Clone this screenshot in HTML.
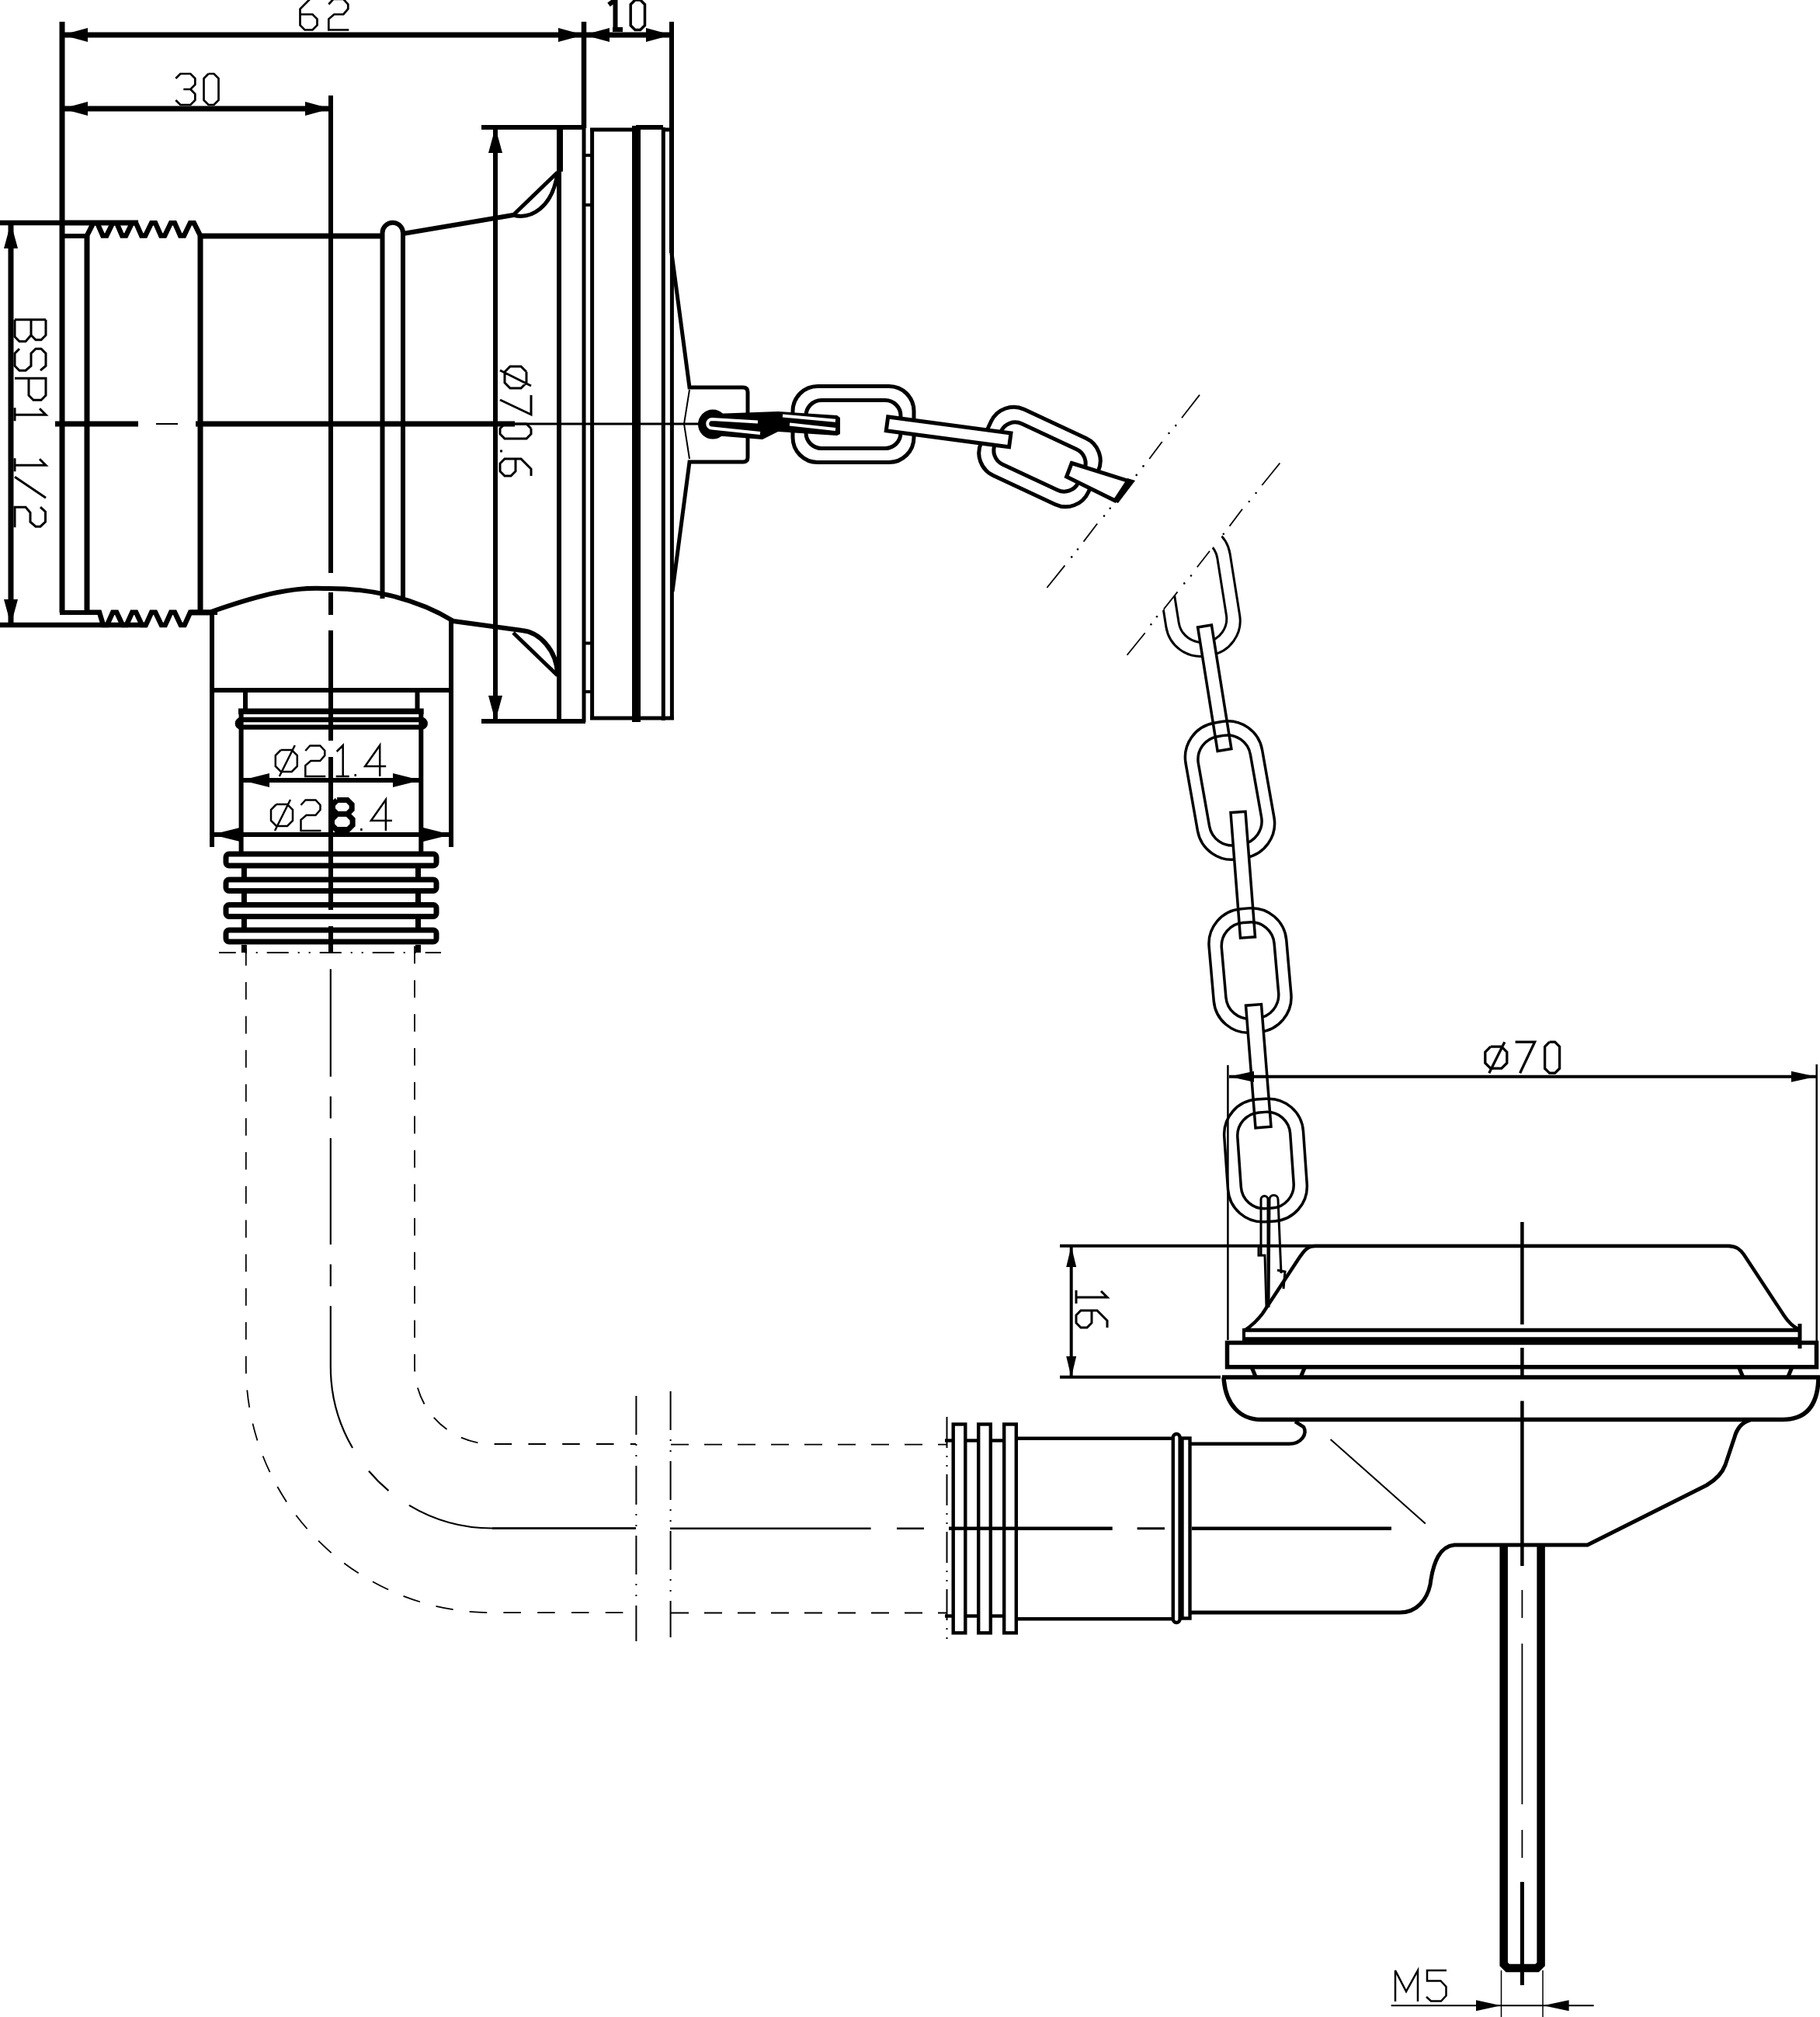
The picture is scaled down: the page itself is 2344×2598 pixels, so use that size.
<!DOCTYPE html>
<html><head><meta charset="utf-8"><style>
html,body{margin:0;padding:0;background:#fff;}
svg{display:block;}
</style></head><body>
<svg width="2344" height="2598" viewBox="0 0 2344 2598">
<rect width="2344" height="2598" fill="#fff"/>
<g stroke="#000" fill="none" stroke-linecap="butt">
<line x1="80.0" y1="28.0" x2="80.0" y2="304.0" stroke-width="7" />
<line x1="752.0" y1="28.0" x2="752.0" y2="930.0" stroke-width="5" />
<line x1="752.0" y1="28.0" x2="752.0" y2="165.0" stroke-width="6.5" />
<line x1="865.0" y1="28.0" x2="865.0" y2="326.0" stroke-width="6" />
<line x1="80.0" y1="45.0" x2="752.0" y2="45.0" stroke-width="7" />
<polygon points="80.0,45.0 113.0,36.0 113.0,54.0" fill="#000" stroke="none"/>
<polygon points="752.0,45.0 719.0,54.0 719.0,36.0" fill="#000" stroke="none"/>
<line x1="752.0" y1="45.0" x2="865.0" y2="45.0" stroke-width="7" />
<polygon points="752.0,45.0 785.0,36.0 785.0,54.0" fill="#000" stroke="none"/>
<polygon points="865.0,45.0 832.0,54.0 832.0,36.0" fill="#000" stroke="none"/>
<line x1="80.0" y1="140.0" x2="426.0" y2="140.0" stroke-width="7" />
<polygon points="80.0,140.0 113.0,131.0 113.0,149.0" fill="#000" stroke="none"/>
<polygon points="426.0,140.0 393.0,149.0 393.0,131.0" fill="#000" stroke="none"/>
<path transform="translate(386.5,-1.5) rotate(0) scale(1.0)" d="M22.0,0.0 L13.0,0.0 L0.0,13.0 L0.0,34.0 L6.0,40.0 L16.0,40.0 L22.0,34.0 L22.0,26.0 L16.0,20.0 L0.0,20.0 M36.8,7.0 L42.8,0.5 L55.8,0.5 L61.8,7.0 L61.8,13.0 L55.8,20.0 L43.8,20.0 L36.8,26.0 L36.8,40.0 L62.8,40.0" stroke-width="2.70" fill="none" stroke-linejoin="miter"/>
<path transform="translate(226.3,95) rotate(0) scale(1.0)" d="M0.0,6.0 L6.0,0.0 L19.0,0.0 L25.0,6.0 L25.0,14.0 L19.0,20.0 L10.0,20.0 M19.0,20.0 L25.0,26.0 L25.0,34.0 L19.0,40.0 L6.0,40.0 L0.0,34.0 M42.2,0.0 L49.2,0.0 L55.2,6.0 L55.2,34.0 L49.2,40.0 L42.2,40.0 L36.2,34.0 L36.2,6.0 L42.2,0.0" stroke-width="2.70" fill="none" stroke-linejoin="miter"/>
<path d="M784,6 L792.5,0 L792.5,38 M789,38 L802,38" stroke-width="6" fill="none" />
<path transform="translate(812.2,0) rotate(0) scale(0.9625)" d="M6.0,0.0 L13.0,0.0 L19.0,6.0 L19.0,34.0 L13.0,40.0 L6.0,40.0 L0.0,34.0 L0.0,6.0 L6.0,0.0" stroke-width="3.64" fill="none" stroke-linejoin="miter"/>
<line x1="0.0" y1="287.0" x2="178.0" y2="287.0" stroke-width="6.5" />
<line x1="0.0" y1="805.0" x2="189.0" y2="805.0" stroke-width="6.5" />
<line x1="14.0" y1="287.0" x2="14.0" y2="805.0" stroke-width="7" />
<polygon points="14.0,287.0 23.0,320.0 5.0,320.0" fill="#000" stroke="none"/>
<polygon points="14.0,805.0 5.0,772.0 23.0,772.0" fill="#000" stroke="none"/>
<path transform="translate(59,411.7) rotate(90) scale(1.0)" d="M0.0,0.0 L0.0,40.0 M0.0,0.0 L20.0,0.0 L26.0,6.0 L26.0,13.0 L20.0,19.0 L0.0,19.0 M20.0,19.0 L28.0,26.0 L28.0,34.0 L22.0,40.0 L0.0,40.0 M65.5,7.0 L59.5,0.0 L43.5,0.0 L37.5,6.0 L37.5,13.0 L43.5,19.0 L59.5,19.0 L65.5,26.0 L65.5,34.0 L59.5,40.0 L43.5,40.0 L37.5,34.0 M75.5,40.0 L75.5,0.0 L97.5,0.0 L103.5,6.0 L103.5,16.0 L97.5,22.0 L75.5,22.0 M114.5,8.0 L122.5,0.0 L122.5,40.0 M113.5,40.0 L130.5,40.0 M179.5,8.0 L187.5,0.0 L187.5,40.0 M178.5,40.0 L195.5,40.0 M202.5,40.0 L229.5,0.0 M241.5,7.0 L247.5,0.5 L260.5,0.5 L266.5,7.0 L266.5,13.0 L260.5,20.0 L248.5,20.0 L241.5,26.0 L241.5,40.0 L267.5,40.0" stroke-width="3.00" fill="none" stroke-linejoin="miter"/>
<line x1="80.0" y1="304.0" x2="80.0" y2="789.0" stroke-width="7" />
<line x1="112.0" y1="304.0" x2="112.0" y2="789.0" stroke-width="7" />
<line x1="77.0" y1="304.0" x2="115.0" y2="304.0" stroke-width="6" />
<line x1="77.0" y1="789.0" x2="126.0" y2="789.0" stroke-width="6" />
<polyline points="112.0,303.5 120.2,287.2 125.2,287.2 132.3,303.4 137.3,303.4 145.2,287.2 150.2,287.2 157.2,303.4 162.2,303.4 170.1,287.2 175.1,287.2 182.2,303.4 187.2,303.4 195.1,287.2 200.1,287.2 207.2,303.4 212.2,303.4 220.0,287.2 225.0,287.2 232.1,303.4 237.1,303.4 244.9,287.2 249.9,287.2 258.0,303.5" stroke-width="6.5" fill="none" />
<line x1="77.0" y1="287.0" x2="178.0" y2="287.0" stroke-width="6.5" />
<polyline points="112.0,788.8 128.0,788.8 132.9,805.0 137.9,805.0 145.2,788.8 150.2,788.8 157.8,805.0 162.8,805.0 170.2,788.8 175.2,788.8 182.8,805.0 187.8,805.0 195.1,788.8 200.1,788.8 207.8,805.0 212.8,805.0 220.1,788.8 225.1,788.8 232.7,805.0 237.7,805.0 245.0,788.8 250.0,788.8 280.0,788.8" stroke-width="6.5" fill="none" />
<line x1="245.0" y1="789.0" x2="274.0" y2="789.0" stroke-width="7" />
<line x1="258.0" y1="304.0" x2="258.0" y2="789.0" stroke-width="7" />
<line x1="255.0" y1="304.0" x2="495.0" y2="304.0" stroke-width="7" />
<line x1="71.0" y1="546.0" x2="178.0" y2="546.0" stroke-width="7" />
<line x1="201.0" y1="546.0" x2="229.0" y2="546.0" stroke-width="2" />
<line x1="252.0" y1="546.0" x2="663.0" y2="546.0" stroke-width="7" />
<line x1="663.0" y1="546.0" x2="901.0" y2="546.0" stroke-width="3" />
<line x1="426.0" y1="123.0" x2="426.0" y2="738.0" stroke-width="6" />
<line x1="426.0" y1="763.0" x2="426.0" y2="792.0" stroke-width="6" />
<line x1="426.0" y1="812.0" x2="426.0" y2="954.0" stroke-width="6" />
<line x1="426.0" y1="975.0" x2="426.0" y2="1172.0" stroke-width="6" />
<line x1="426.0" y1="1193.0" x2="426.0" y2="1227.0" stroke-width="6" />
<path d="M492.5,771 L492.5,300 A13,13 0 0 1 519,300 L519,771" stroke-width="6" fill="none" />
<path d="M519,301 L661,277" stroke-width="6" fill="none" />
<path d="M661,277 C683,283 712,268 718,222" stroke-width="5" fill="none" />
<line x1="661.0" y1="277.0" x2="718.0" y2="222.0" stroke-width="5" />
<path d="M272,788 C340,764 380,756 418,758 C475,757 535,770 584,800 L672,812 C695,814 717,838 718,868" stroke-width="6" fill="none" />
<line x1="661.0" y1="815.0" x2="718.0" y2="870.0" stroke-width="5" />
<line x1="620.0" y1="164.0" x2="752.0" y2="164.0" stroke-width="6" />
<line x1="620.0" y1="929.0" x2="754.0" y2="929.0" stroke-width="6" />
<line x1="720.0" y1="164.0" x2="720.0" y2="929.0" stroke-width="6" />
<line x1="722.0" y1="166.0" x2="722.0" y2="221.0" stroke-width="6" />
<line x1="638.0" y1="164.0" x2="638.0" y2="929.0" stroke-width="6" />
<polygon points="638.0,164.0 647.0,197.0 629.0,197.0" fill="#000" stroke="none"/>
<polygon points="638.0,929.0 629.0,896.0 647.0,896.0" fill="#000" stroke="none"/>
<path transform="translate(684,472) rotate(90) scale(1.0)" d="M7.0,6.0 L21.0,6.0 L28.0,13.0 L28.0,27.0 L21.0,34.0 L7.0,34.0 L0.0,27.0 L0.0,13.0 L7.0,6.0 M25.0,0.0 L5.0,40.0 M37.0,0.0 L62.0,0.0 L43.0,40.0 M80.0,0.0 L87.0,0.0 L93.0,6.0 L93.0,34.0 L87.0,40.0 L80.0,40.0 L74.0,34.0 L74.0,6.0 L80.0,0.0 M109.0,37.0 L109.0,40.0 M141.0,0.0 L132.0,0.0 L119.0,13.0 L119.0,34.0 L125.0,40.0 L135.0,40.0 L141.0,34.0 L141.0,26.0 L135.0,20.0 L119.0,20.0" stroke-width="3.00" fill="none" stroke-linejoin="miter"/>
<line x1="762.6" y1="165.0" x2="762.6" y2="926.0" stroke-width="5" />
<line x1="760.0" y1="167.0" x2="819.0" y2="167.0" stroke-width="5" />
<line x1="819.5" y1="162.0" x2="819.5" y2="930.0" stroke-width="11" />
<line x1="819.0" y1="164.0" x2="854.0" y2="164.0" stroke-width="6" />
<line x1="854.0" y1="167.0" x2="868.0" y2="167.0" stroke-width="5" />
<line x1="854.3" y1="164.0" x2="854.3" y2="928.0" stroke-width="5" />
<line x1="865.4" y1="28.0" x2="865.4" y2="927.0" stroke-width="5" />
<line x1="760.0" y1="925.0" x2="868.0" y2="925.0" stroke-width="5" />
<line x1="752.0" y1="200.0" x2="762.0" y2="200.0" stroke-width="4" />
<line x1="752.0" y1="264.0" x2="762.0" y2="264.0" stroke-width="4" />
<line x1="752.0" y1="828.5" x2="762.0" y2="828.5" stroke-width="4" />
<line x1="752.0" y1="891.0" x2="762.0" y2="891.0" stroke-width="4" />
<polyline points="865.0,326.0 888.0,499.0 957.0,499.0" stroke-width="5" fill="none" />
<path d="M957,499 Q963,499 963,505 L963,589 Q963,595 957,595 L888,595 L866,762" stroke-width="5" fill="none" />
<polyline points="888.0,502.0 881.0,546.0 888.0,591.0" stroke-width="2" fill="none" />
<line x1="273.0" y1="791.0" x2="273.0" y2="1091.0" stroke-width="6" />
<line x1="581.0" y1="800.0" x2="581.0" y2="1091.0" stroke-width="6" />
<line x1="270.0" y1="889.0" x2="584.0" y2="889.0" stroke-width="6" />
<line x1="316.0" y1="889.0" x2="316.0" y2="916.0" stroke-width="6" />
<line x1="537.5" y1="889.0" x2="537.5" y2="916.0" stroke-width="6" />
<line x1="307.0" y1="916.2" x2="545.6" y2="916.2" stroke-width="7.5" />
<rect x="305.8" y="927" width="242" height="9.7" rx="4.8" stroke-width="6.3"/>
<line x1="310.6" y1="913.0" x2="310.6" y2="1097.0" stroke-width="6" />
<line x1="542.3" y1="913.0" x2="542.3" y2="1097.0" stroke-width="6" />
<line x1="311.0" y1="1005.0" x2="542.0" y2="1005.0" stroke-width="6" />
<polygon points="311.0,1005.0 347.0,996.0 347.0,1014.0" fill="#000" stroke="none"/>
<polygon points="542.0,1005.0 506.0,1014.0 506.0,996.0" fill="#000" stroke="none"/>
<line x1="273.0" y1="1075.0" x2="581.0" y2="1075.0" stroke-width="6" />
<polygon points="273.0,1075.0 309.0,1066.0 309.0,1084.0" fill="#000" stroke="none"/>
<polygon points="581.0,1075.0 545.0,1084.0 545.0,1066.0" fill="#000" stroke="none"/>
<path transform="translate(354.8,960) rotate(0) scale(1.0)" d="M7.0,6.0 L21.0,6.0 L28.0,13.0 L28.0,27.0 L21.0,34.0 L7.0,34.0 L0.0,27.0 L0.0,13.0 L7.0,6.0 M25.0,0.0 L5.0,40.0 M38.5,7.0 L44.5,0.5 L57.5,0.5 L63.5,7.0 L63.5,13.0 L57.5,20.0 L45.5,20.0 L38.5,26.0 L38.5,40.0 L64.5,40.0 M78.9,8.0 L86.9,0.0 L86.9,40.0 M77.9,40.0 L94.9,40.0 M102.9,37.0 L102.9,40.0 M134.4,40.0 L134.4,0.0 L115.4,27.0 L142.4,27.0" stroke-width="2.50" fill="none" stroke-linejoin="miter"/>
<path transform="translate(349,1030) rotate(0) scale(1.0)" d="M7.0,6.0 L21.0,6.0 L28.0,13.0 L28.0,27.0 L21.0,34.0 L7.0,34.0 L0.0,27.0 L0.0,13.0 L7.0,6.0 M25.0,0.0 L5.0,40.0 M38.5,7.0 L44.5,0.5 L57.5,0.5 L63.5,7.0 L63.5,13.0 L57.5,20.0 L45.5,20.0 L38.5,26.0 L38.5,40.0 L64.5,40.0" stroke-width="2.50" fill="none" stroke-linejoin="miter"/>
<path transform="translate(427.5,1030.5) rotate(0) scale(0.95)" d="M7.0,0.0 L21.0,0.0 L27.0,6.0 L27.0,13.0 L21.0,19.0 L7.0,19.0 L1.0,13.0 L1.0,6.0 L7.0,0.0 M7.0,19.0 L21.0,19.0 L28.0,26.0 L28.0,34.0 L22.0,40.0 L6.0,40.0 L0.0,34.0 L0.0,26.0 L7.0,19.0" stroke-width="7.37" fill="none" stroke-linejoin="miter"/>
<path transform="translate(461.4,1030) rotate(0) scale(1.0)" d="M4.0,37.0 L4.0,40.0 M35.5,40.0 L35.5,0.0 L16.5,27.0 L43.5,27.0" stroke-width="2.50" fill="none" stroke-linejoin="miter"/>
<rect x="291" y="1100" width="271" height="15" rx="4" stroke-width="7"/>
<rect x="291" y="1133" width="271" height="14.5" rx="4" stroke-width="7"/>
<rect x="291" y="1165.5" width="271" height="15.0" rx="4" stroke-width="7"/>
<rect x="291" y="1198" width="271" height="15" rx="4" stroke-width="7"/>
<line x1="314.4" y1="1118.0" x2="314.4" y2="1130.0" stroke-width="7" />
<line x1="538.5" y1="1118.0" x2="538.5" y2="1130.0" stroke-width="7" />
<line x1="314.4" y1="1151.0" x2="314.4" y2="1163.0" stroke-width="7" />
<line x1="538.5" y1="1151.0" x2="538.5" y2="1163.0" stroke-width="7" />
<line x1="314.4" y1="1184.0" x2="314.4" y2="1195.0" stroke-width="7" />
<line x1="538.5" y1="1184.0" x2="538.5" y2="1195.0" stroke-width="7" />
<line x1="314.4" y1="1217.0" x2="314.4" y2="1227.0" stroke-width="7" />
<line x1="538.5" y1="1217.0" x2="538.5" y2="1227.0" stroke-width="7" />
<line x1="282.0" y1="1227.0" x2="568.0" y2="1227.0" stroke-width="2" stroke-dasharray="28,12,2,12,2,12" stroke-dashoffset="6.3"/>
<path d="M316.8,1221.2 L316.8,1760 A317.2,317.2 0 0 0 634,2077.2 L819,2077.2" stroke-width="1.8" fill="none" stroke-dasharray="22.6,21.2"/>
<path d="M534,1218.6 L534,1760 A100,100 0 0 0 634,1860 L819,1860" stroke-width="1.8" fill="none" stroke-dasharray="22.6,21.2"/>
<path d="M425.8,1248.3 L425.8,1760 A208.2,208.2 0 0 0 634,1968.5 L819,1968.5" stroke-width="2.2" fill="none" stroke-dasharray="138.5,25.4,28.3,25.5,137,25.5,28.3,25.5,187.7,36.3,36,32.4,500"/>
<line x1="634.0" y1="1968.5" x2="819.0" y2="1968.5" stroke-width="2.5" />
<line x1="819.4" y1="1798.0" x2="819.4" y2="2114.0" stroke-width="2" stroke-dasharray="50,12,2,12,2,12"/>
<line x1="863.6" y1="1792.0" x2="863.6" y2="2109.0" stroke-width="2" stroke-dasharray="50,12,2,12,2,12"/>
<line x1="864.0" y1="1860.7" x2="1219.0" y2="1860.7" stroke-width="1.8" stroke-dasharray="23,20"/>
<line x1="864.0" y1="2077.5" x2="1219.0" y2="2077.5" stroke-width="1.8" stroke-dasharray="23,20"/>
<line x1="863.0" y1="1968.7" x2="1121.6" y2="1968.7" stroke-width="2.5" />
<line x1="1155.0" y1="1968.7" x2="1190.0" y2="1968.7" stroke-width="2.5" />
<line x1="1219.5" y1="1825.0" x2="1219.5" y2="2112.0" stroke-width="2" stroke-dasharray="40,10,2,10,2,10"/>
<rect x="1227.7" y="1834.5" width="15.6" height="268.8" stroke-width="4.4"/>
<rect x="1260.2" y="1834.5" width="15.6" height="268.8" stroke-width="4.4"/>
<rect x="1293.2" y="1834.5" width="15.6" height="268.8" stroke-width="4.4"/>
<line x1="1217.0" y1="1855.5" x2="1227.0" y2="1855.5" stroke-width="4.4" />
<line x1="1217.0" y1="2081.5" x2="1227.0" y2="2081.5" stroke-width="4.4" />
<line x1="1243.0" y1="1855.5" x2="1260.0" y2="1855.5" stroke-width="4.4" />
<line x1="1243.0" y1="2081.5" x2="1260.0" y2="2081.5" stroke-width="4.4" />
<line x1="1276.0" y1="1855.5" x2="1293.0" y2="1855.5" stroke-width="4.4" />
<line x1="1276.0" y1="2081.5" x2="1293.0" y2="2081.5" stroke-width="4.4" />
<line x1="1311.0" y1="1852.7" x2="1509.0" y2="1852.7" stroke-width="4.5" />
<line x1="1311.0" y1="2085.3" x2="1509.0" y2="2085.3" stroke-width="4.5" />
<line x1="1222.0" y1="1968.8" x2="1432.7" y2="1968.8" stroke-width="4.5" />
<line x1="1464.6" y1="1968.8" x2="1500.0" y2="1968.8" stroke-width="3" />
<line x1="1535.0" y1="1968.8" x2="1792.0" y2="1968.8" stroke-width="4.5" />
<rect x="1510.8" y="1847" width="8.8" height="243" rx="4.4" stroke-width="4.4"/>
<rect x="1522.5" y="1852.5" width="10" height="232" stroke-width="4.4"/>
<path d="M1534,1859.8 L1660,1859.8 C1676,1859.8 1684,1847 1679,1838 L1668,1831" stroke-width="4.5" fill="none" />
<path d="M1576,1774 C1578,1810 1598,1828.5 1624,1828.5 L2296,1828.5 C2325,1828.5 2342,1812 2342,1772" stroke-width="5.5" fill="none" />
<line x1="1574.0" y1="1774.0" x2="2344.0" y2="1774.0" stroke-width="5.5" />
<path d="M2254,1829 C2244,1832 2237,1840 2234,1851 L2222,1887 C2219,1895 2213,1904 2198,1913 L2044.5,1990 L1873,1990 C1855,1992 1846,2010 1842,2041 C1838,2060 1825,2077 1803,2077 L1534,2077" stroke-width="5" fill="none" />
<line x1="1713.6" y1="1854.0" x2="1835.8" y2="1962.5" stroke-width="2" />
<line x1="1960.4" y1="1574.0" x2="1960.4" y2="1706.0" stroke-width="4.5" />
<line x1="1960.4" y1="1736.0" x2="1960.4" y2="1772.0" stroke-width="4.5" />
<line x1="1960.4" y1="1804.5" x2="1960.4" y2="2017.0" stroke-width="4.5" />
<line x1="1960.4" y1="2048.0" x2="1960.4" y2="2084.0" stroke-width="1.8" />
<line x1="1960.4" y1="2117.0" x2="1960.4" y2="2324.0" stroke-width="1.8" />
<line x1="1960.4" y1="2357.0" x2="1960.4" y2="2393.0" stroke-width="1.8" />
<line x1="1960.4" y1="2424.0" x2="1960.4" y2="2557.0" stroke-width="5" />
<path d="M1936.7,1991 L1936.7,2530 L1941.7,2535 L1979.6,2535 L1984.6,2530 L1984.6,1991" stroke-width="10.5" fill="none" />
<line x1="1933.5" y1="2538.0" x2="1933.5" y2="2598.0" stroke-width="1.5" />
<line x1="1987.0" y1="2538.0" x2="1987.0" y2="2598.0" stroke-width="1.5" />
<line x1="1791.6" y1="2583.2" x2="2052.7" y2="2583.2" stroke-width="2" />
<polygon points="1933.0,2583.2 1901.0,2590.2 1901.0,2576.2" fill="#000" stroke="none"/>
<polygon points="1987.6,2583.2 2020.6,2576.2 2020.6,2590.2" fill="#000" stroke="none"/>
<path transform="translate(1797,2538) rotate(0) scale(1.0)" d="M0.0,40.0 L0.0,0.0 L14.0,27.0 L29.0,0.0 L29.0,40.0 M66.0,0.0 L41.0,0.0 L41.0,13.5 L58.5,13.5 L65.5,21.0 L65.5,32.5 L59.0,39.5 L46.0,39.5 L40.0,34.0" stroke-width="2.50" fill="none" stroke-linejoin="miter"/>
<circle cx="918" cy="546.6" r="19" fill="#000" stroke="none"/>
<polygon points="920,533 1002,530 1078,535 1082,538 1082,559 1078,561 1002,556 982,566 920,561" fill="#000" stroke="none"/>
<rect x="1021.0" y="497.5" width="156.0" height="98.0" rx="32" ry="32" transform="rotate(0 1099.0 546.5)" stroke-width="5" fill="none"/>
<rect x="1038.0" y="515.5" width="122.0" height="62.0" rx="20" ry="20" transform="rotate(0 1099.0 546.5)" stroke-width="5" fill="none"/>
<path d="M976,543.5 L917,540 A5.8,5.8 0 0 0 917,551.6 L979,558" stroke="#fff" stroke-width="4"/>
<line x1="1008.0" y1="535.5" x2="1076.0" y2="541.8" stroke-width="4" stroke="#fff"/>
<line x1="1017.0" y1="546.5" x2="1076.0" y2="553.0" stroke-width="4" stroke="#fff"/>
<rect x="1263.0" y="541.5" width="152.0" height="94.0" rx="32" ry="32" transform="rotate(25 1339.0 588.5)" stroke-width="5" fill="none"/>
<rect x="1280.0" y="559.5" width="118.0" height="58.0" rx="20" ry="20" transform="rotate(25 1339.0 588.5)" stroke-width="5" fill="none"/>
<polygon points="1141.3,554.7 1299.6,575.8 1302.0,558.0 1143.7,536.9" stroke-width="5" fill="#fff"/>
<polygon points="1380.2,596.5 1457,620.7 1436,644.8 1373.6,614" fill="#fff" stroke-width="5" stroke-linejoin="miter"/>
<polygon points="1452,616 1462,619 1440,648 1433,645" fill="#000" stroke="none"/>
<line x1="1545.0" y1="508.6" x2="1522.0" y2="538.2" stroke-width="1.8" />
<circle cx="1514.3" cy="548.1" r="1.3" fill="#000" stroke="none"/>
<circle cx="1505.5" cy="558" r="1.3" fill="#000" stroke="none"/>
<line x1="1496.7" y1="569.0" x2="1480.2" y2="591.0" stroke-width="1.8" />
<circle cx="1472.5" cy="600.4" r="1.3" fill="#000" stroke="none"/>
<circle cx="1463.7" cy="611.9" r="1.3" fill="#000" stroke="none"/>
<circle cx="1429.7" cy="654.7" r="1.3" fill="#000" stroke="none"/>
<circle cx="1422" cy="664.6" r="1.3" fill="#000" stroke="none"/>
<line x1="1413.2" y1="674.5" x2="1395.6" y2="697.6" stroke-width="1.8" />
<circle cx="1388" cy="707.5" r="1.3" fill="#000" stroke="none"/>
<circle cx="1380.2" cy="717.4" r="1.3" fill="#000" stroke="none"/>
<line x1="1371.4" y1="728.4" x2="1348.4" y2="757.0" stroke-width="1.8" />
<line x1="1648.4" y1="596.5" x2="1625.3" y2="625.0" stroke-width="1.8" />
<circle cx="1617.6" cy="635" r="1.3" fill="#000" stroke="none"/>
<circle cx="1608.8" cy="646" r="1.3" fill="#000" stroke="none"/>
<line x1="1600.0" y1="655.8" x2="1583.5" y2="677.8" stroke-width="1.8" />
<circle cx="1575.8" cy="687.7" r="1.3" fill="#000" stroke="none"/>
<line x1="1558.0" y1="709.7" x2="1541.8" y2="730.5" stroke-width="1.8" />
<circle cx="1534" cy="741.5" r="1.3" fill="#000" stroke="none"/>
<circle cx="1525.3" cy="751.4" r="1.3" fill="#000" stroke="none"/>
<line x1="1516.5" y1="762.4" x2="1499.0" y2="784.4" stroke-width="1.8" />
<circle cx="1490" cy="794.3" r="1.3" fill="#000" stroke="none"/>
<circle cx="1482.4" cy="804.2" r="1.3" fill="#000" stroke="none"/>
<line x1="1474.7" y1="815.2" x2="1451.6" y2="843.7" stroke-width="1.8" />
<clipPath id="clipE"><polygon points="1648.4,596.5 1451.6,843.7 1451.6,1000 1800,1000 1800,596.5"/></clipPath>
<g clip-path="url(#clipE)">
<rect x="1495.0" y="675.5" width="96.0" height="170.0" rx="45" ry="45" transform="rotate(-9 1543.0 760.5)" stroke-width="3" fill="none"/>
<rect x="1512.0" y="693.5" width="62.0" height="134.0" rx="30" ry="30" transform="rotate(-9 1543.0 760.5)" stroke-width="3" fill="none"/>
</g>
<polygon points="1542.6,807.9 1568.1,967.4 1585.9,964.6 1560.4,805.1" stroke-width="3.5" fill="#fff"/>
<rect x="1534.0" y="929.0" width="100.0" height="178.0" rx="45" ry="45" transform="rotate(-10 1584.0 1018.0)" stroke-width="3.5" fill="none"/>
<rect x="1550.0" y="947.0" width="68.0" height="142.0" rx="30" ry="30" transform="rotate(-10 1584.0 1018.0)" stroke-width="3.5" fill="none"/>
<polygon points="1585.0,1046.7 1597.5,1208.2 1616.5,1206.8 1604.0,1045.3" stroke-width="3.5" fill="#fff"/>
<rect x="1560.0" y="1170.0" width="100.0" height="160.0" rx="45" ry="45" transform="rotate(-5 1610.0 1250.0)" stroke-width="3.5" fill="none"/>
<rect x="1576.0" y="1188.0" width="68.0" height="124.0" rx="30" ry="30" transform="rotate(-5 1610.0 1250.0)" stroke-width="3.5" fill="none"/>
<polygon points="1604.5,1295.2 1617.0,1452.8 1637.0,1451.2 1624.5,1293.6" stroke-width="3.5" fill="#fff"/>
<rect x="1579.0" y="1415.5" width="102.0" height="158.0" rx="45" ry="45" transform="rotate(-4 1630.0 1494.5)" stroke-width="3.5" fill="none"/>
<rect x="1596.0" y="1432.5" width="68.0" height="124.0" rx="30" ry="30" transform="rotate(-4 1630.0 1494.5)" stroke-width="3.5" fill="none"/>
<path d="M1624,1616 L1624,1545 A4.5,4.5 0 0 1 1633,1545 L1633,1684" stroke-width="3" fill="none" />
<path d="M1634,1684 L1635,1545 A5.5,5.5 0 0 1 1646,1545 L1650,1640" stroke-width="3" fill="none" />
<polyline points="1621.0,1604.0 1621.0,1617.0 1629.0,1617.0 1631.0,1684.0" stroke-width="3" fill="none" />
<polyline points="1645.0,1636.0 1655.0,1638.0 1653.0,1660.0" stroke-width="3" fill="none" />
<line x1="1581.4" y1="1372.0" x2="1581.4" y2="1726.0" stroke-width="2.5" />
<line x1="2339.7" y1="1371.0" x2="2339.7" y2="1729.0" stroke-width="2.5" />
<line x1="1583.0" y1="1386.7" x2="2339.0" y2="1386.7" stroke-width="4" />
<polygon points="1583.0,1386.7 1615.0,1379.7 1615.0,1393.7" fill="#000" stroke="none"/>
<polygon points="2339.0,1386.7 2307.0,1393.7 2307.0,1379.7" fill="#000" stroke="none"/>
<path transform="translate(1912.8,1342.2) rotate(0) scale(1.0)" d="M7.0,6.0 L21.0,6.0 L28.0,13.0 L28.0,27.0 L21.0,34.0 L7.0,34.0 L0.0,27.0 L0.0,13.0 L7.0,6.0 M25.0,0.0 L5.0,40.0 M38.8,0.0 L63.8,0.0 L44.8,40.0 M82.8,0.0 L89.8,0.0 L95.8,6.0 L95.8,34.0 L89.8,40.0 L82.8,40.0 L76.8,34.0 L76.8,6.0 L82.8,0.0" stroke-width="3.30" fill="none" stroke-linejoin="miter"/>
<line x1="1365.0" y1="1604.8" x2="2230.0" y2="1604.8" stroke-width="4" />
<line x1="1365.0" y1="1773.8" x2="1572.0" y2="1773.8" stroke-width="4" />
<line x1="1379.7" y1="1605.0" x2="1379.7" y2="1774.0" stroke-width="4" />
<polygon points="1379.7,1605.0 1386.2,1632.0 1373.2,1632.0" fill="#000" stroke="none"/>
<polygon points="1379.7,1774.0 1373.2,1747.0 1386.2,1747.0" fill="#000" stroke="none"/>
<path transform="translate(1426,1662) rotate(90) scale(1.0)" d="M1.0,8.0 L9.0,0.0 L9.0,40.0 M0.0,40.0 L17.0,40.0 M48.0,0.0 L39.0,0.0 L26.0,13.0 L26.0,34.0 L32.0,40.0 L42.0,40.0 L48.0,34.0 L48.0,26.0 L42.0,20.0 L26.0,20.0" stroke-width="3.00" fill="none" stroke-linejoin="miter"/>
<path d="M1604,1713 C1614,1706 1620,1700 1626,1692 L1672,1622 C1680,1610 1684,1605 1694,1605 L2226,1605 C2236,1605 2241,1609 2246,1616 L2298,1695 C2304,1704 2310,1709 2316,1712" stroke-width="4.5" fill="none" />
<line x1="1602.0" y1="1713.2" x2="2318.0" y2="1713.2" stroke-width="5" />
<line x1="1600.0" y1="1725.0" x2="2318.0" y2="1725.0" stroke-width="5.5" />
<line x1="1602.0" y1="1711.0" x2="1602.0" y2="1729.0" stroke-width="4" />
<line x1="2318.0" y1="1705.0" x2="2318.0" y2="1737.0" stroke-width="5" />
<rect x="1580.5" y="1729.5" width="759" height="31.3" stroke-width="5.5"/>
<line x1="1612.0" y1="1761.0" x2="1617.0" y2="1773.0" stroke-width="5" />
<line x1="1680.5" y1="1761.0" x2="1675.5" y2="1773.0" stroke-width="5" />
<line x1="2239.5" y1="1761.0" x2="2244.5" y2="1773.0" stroke-width="5" />
<line x1="2308.0" y1="1761.0" x2="2303.0" y2="1773.0" stroke-width="5" />
</g>
</svg>
</body></html>
